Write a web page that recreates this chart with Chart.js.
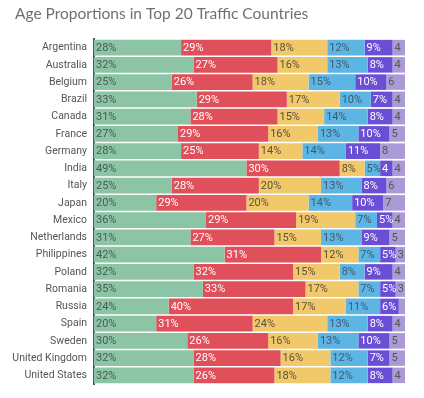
<!DOCTYPE html>
<html>
<head>
<meta charset="utf-8">
<script src="https://cdn.jsdelivr.net/npm/chart.js@4"></script>
<style>
  html, body { margin: 0; padding: 0; background: #fff; }
  #wrap { width: 424px; height: 398px; }
</style>
</head>
<body>
<div id="wrap"><canvas id="chart"></canvas></div>
<script>
const chartTitle = "Age Proportions in Top 20 Traffic Countries";
const countries = ["Argentina", "Australia", "Belgium", "Brazil", "Canada", "France", "Germany", "India", "Italy", "Japan",
  "Mexico", "Netherlands", "Philippines", "Poland", "Romania", "Russia", "Spain", "Sweden", "United Kingdom", "United States"];

// age bands, left to right
const band1 = [28, 32, 25, 33, 31, 27, 28, 49, 25, 20, 36, 31, 42, 32, 35, 24, 20, 30, 32, 32];
const band2 = [29, 27, 26, 29, 28, 29, 25, 30, 28, 29, 29, 27, 31, 32, 33, 40, 31, 26, 28, 26];
const band3 = [18, 16, 18, 17, 15, 16, 14, 8, 20, 20, 19, 15, 12, 15, 17, 17, 24, 16, 16, 18];
const band4 = [12, 13, 15, 10, 14, 13, 14, 5, 13, 14, 7, 13, 7, 8, 7, 11, 13, 13, 12, 12];
const band5 = [9, 8, 10, 7, 8, 10, 11, 4, 8, 10, 5, 9, 5, 9, 5, 6, 8, 10, 7, 8];
const band6 = [4, 4, 6, 4, 4, 5, 8, 4, 6, 7, 4, 5, 3, 4, 3, 2, 4, 5, 5, 4];

const colors = ["#8cc4a6", "#e0505a", "#f1c96b", "#5db5e4", "#6a4fd6", "#aa9bd6"];
const textColors = ["#4d5a52", "#ffffff", "#5a5040", "#3f5a6a", "#ffffff", "#555555"];

const segmentLabels = {
  id: "segmentLabels",
  afterDatasetsDraw(chart) {
    const ctx = chart.ctx;
    ctx.save();
    ctx.font = "11px Roboto";
    ctx.textBaseline = "middle";
    ctx.textAlign = "left";
    chart.data.datasets.forEach((ds, di) => {
      const meta = chart.getDatasetMeta(di);
      meta.data.forEach((bar, i) => {
        const v = ds.data[i];
        if (v < 3) return;
        const last = di === chart.data.datasets.length - 1;
        const txt = (last || v < 5) ? String(v) : v + "%";
        ctx.fillStyle = textColors[di];
        ctx.fillText(txt, Math.min(bar.base, bar.x) + 2, bar.y + 0.5);
      });
    });
    ctx.restore();
  }
};

// title sits left of the axis labels, so draw it by hand
const leftTitle = {
  id: "leftTitle",
  afterDraw(chart) {
    const ctx = chart.ctx;
    ctx.save();
    ctx.font = "15.5px Lato";
    ctx.fillStyle = "#707070";
    ctx.textBaseline = "middle";
    ctx.textAlign = "left";
    ctx.fillText(chartTitle, 15, 14);
    ctx.restore();
  }
};

const bands = [band1, band2, band3, band4, band5, band6];

new Chart(document.getElementById("chart"), {
  type: "bar",
  data: {
    labels: countries,
    datasets: bands.map((d, i) => ({
      data: d,
      backgroundColor: colors[i],
      borderWidth: 0,
      barPercentage: 1,
      categoryPercentage: 0.9
    }))
  },
  options: {
    indexAxis: "y",
    responsive: true,
    maintainAspectRatio: false,
    animation: false,
    layout: { padding: { left: 0, right: 19, top: 39, bottom: 14 } },
    plugins: {
      legend: { display: false },
      tooltip: { enabled: false },
      title: { display: false }
    },
    scales: {
      x: { stacked: true, display: false, min: 0, max: 100 },
      y: {
        stacked: true,
        grid: { display: false, drawTicks: false },
        border: { display: true, color: "#555", width: 2 },
        ticks: { color: "#555", font: { family: "Roboto", size: 10.5 }, padding: 7 },
        afterFit(scale) { scale.width = 94; }
      }
    }
  },
  plugins: [segmentLabels, leftTitle]
});
</script>
</body>
</html>
